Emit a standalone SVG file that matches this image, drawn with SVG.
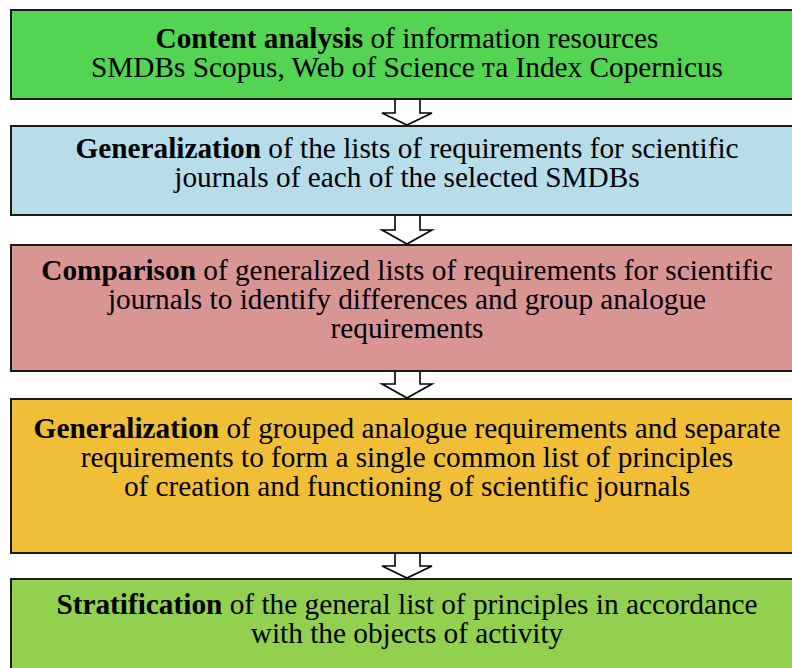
<svg xmlns="http://www.w3.org/2000/svg" width="792" height="668" viewBox="0 0 792 668">
<style>
.box{stroke:#1a1a1a;stroke-width:2}
.t{font-family:"Liberation Serif","Times New Roman",serif;font-size:29.3px;fill:#000;text-anchor:middle}
.b{font-weight:bold}
.arr{fill:#fff;stroke:#000;stroke-width:1.6;stroke-linejoin:miter}
</style>
<rect width="792" height="668" fill="#fff"/>
<g id="connectors">
<path class="arr" d="M395,99 V113 H382 L407,125 L432,113 H420 V99"/>
<path class="arr" d="M395,215 V230 H382 L407,244 L432,230 H420 V215"/>
<path class="arr" d="M395,371 V384 H382 L407,398 L432,384 H420 V371"/>
<path class="arr" d="M395,553 V566 H382 L407,578 L432,566 H420 V553"/>
</g>
<g id="node1">
<rect class="box" x="11" y="10" width="800" height="89" fill="#53d453"/>
<text class="t" x="407" y="48"><tspan class="b">Content analysis</tspan> of information resources</text>
<text class="t" x="407" y="77">SMDBs Scopus, Web of Science та Index Copernicus</text>
</g>
<g id="node2">
<rect class="box" x="11" y="126" width="800" height="89" fill="#b6dde8"/>
<text class="t" x="407" y="158"><tspan class="b">Generalization</tspan> of the lists of requirements for scientific</text>
<text class="t" x="407" y="187">journals of each of the selected SMDBs</text>
</g>
<g id="node3">
<rect class="box" x="11" y="245" width="800" height="126" fill="#d99594"/>
<text class="t" x="407" y="280"><tspan class="b">Comparison</tspan> of generalized lists of requirements for scientific</text>
<text class="t" x="407" y="309">journals to identify differences and group analogue</text>
<text class="t" x="407" y="338">requirements</text>
</g>
<g id="node4">
<rect class="box" x="11" y="399" width="800" height="154" fill="#f1be37"/>
<text class="t" x="407" y="438"><tspan class="b">Generalization</tspan> of grouped analogue requirements and separate</text>
<text class="t" x="407" y="467">requirements to form a single common list of principles</text>
<text class="t" x="407" y="496">of creation and functioning of scientific journals</text>
</g>
<g id="node5">
<rect class="box" x="11" y="579" width="800" height="100" fill="#92d050"/>
<text class="t" x="407" y="614"><tspan class="b">Stratification</tspan> of the general list of principles in accordance</text>
<text class="t" x="407" y="643">with the objects of activity</text>
</g>
</svg>
